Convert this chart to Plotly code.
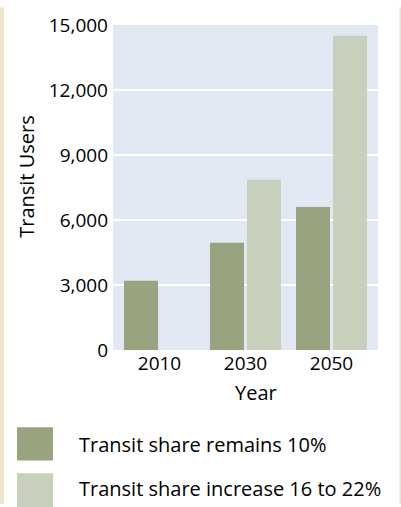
import plotly.graph_objects as go

# ---- data ----
years = ["2010", "2030", "2050"]
series_names = ["Transit share remains 10%", "Transit share increase 16 to 22%"]
remains_10 = [3200, 4950, 6600]
increase_16_22 = [None, 7860, 14500]
y_ticks = [0, 3000, 6000, 9000, 12000, 15000]
y_tick_labels = ["0", "3,000", "6,000", "9,000", "12,000", "15,000"]

# ---- styling ----
W, H = 401, 507
L, R, T, B = 113, 23, 18, 157
PW, PH = W - L - R, H - T - B
DARK = "#97A47F"
LIGHT = "#C7D0BA"
BG = "#E1E8F4"
BEIGE = "#EFE3CD"
FONT = "Open Sans"


def px2x(px):
    return (px - L) / PW


def py2y(py):
    return (H - B - py) / PH


fig = go.Figure()
fig.add_trace(go.Bar(x=years, y=remains_10, name=series_names[0],
                     marker=dict(color=DARK, line=dict(width=0))))
fig.add_trace(go.Bar(x=years, y=increase_16_22, name=series_names[1],
                     marker=dict(color=LIGHT, line=dict(width=0))))

shapes = [
    # beige page edges
    dict(type="rect", xref="paper", yref="paper", x0=px2x(0), x1=px2x(4),
         y0=py2y(H), y1=py2y(0), fillcolor=BEIGE, line=dict(width=0), layer="below"),
    dict(type="rect", xref="paper", yref="paper", x0=px2x(399.5), x1=px2x(W),
         y0=py2y(H), y1=py2y(0), fillcolor=BEIGE, line=dict(width=0), layer="below"),
    # legend swatches
    dict(type="rect", xref="paper", yref="paper", x0=px2x(17), x1=px2x(53),
         y0=py2y(463), y1=py2y(429), fillcolor=DARK, line=dict(width=0)),
    dict(type="rect", xref="paper", yref="paper", x0=px2x(17), x1=px2x(53),
         y0=py2y(512), y1=py2y(476), fillcolor=LIGHT, line=dict(width=0)),
]

annotations = [
    dict(text="Year", xref="paper", yref="paper", x=px2x(256), y=py2y(393),
         xanchor="center", yanchor="middle", showarrow=False,
         font=dict(family=FONT, size=20, color="black")),
    dict(text="Transit Users", xref="paper", yref="paper", x=px2x(27), y=py2y(173),
         xanchor="center", yanchor="middle", showarrow=False, textangle=-90,
         font=dict(family=FONT, size=20, color="black")),
    dict(text=series_names[0], xref="paper", yref="paper", x=px2x(77), y=py2y(447),
         xanchor="left", yanchor="middle", showarrow=False,
         font=dict(family=FONT, size=20, color="black")),
    dict(text=series_names[1], xref="paper", yref="paper", x=px2x(77), y=py2y(491),
         xanchor="left", yanchor="middle", showarrow=False,
         font=dict(family=FONT, size=20, color="black")),
]

fig.update_layout(
    width=W, height=H,
    margin=dict(l=L, r=R, t=T, b=B, pad=0),
    paper_bgcolor="white",
    plot_bgcolor=BG,
    barmode="group",
    bargap=0.14,
    bargroupgap=0.081,
    showlegend=False,
    hovermode=False,
    font=dict(family=FONT, size=19, color="black"),
    shapes=shapes,
    annotations=annotations,
    xaxis=dict(type="category", range=[-0.5407, 2.5407], showgrid=False,
               zeroline=False, showline=False, ticks="",
               tickfont=dict(family=FONT, size=19, color="black")),
    yaxis=dict(range=[0, 15000], tickvals=y_ticks, ticktext=y_tick_labels,
               showgrid=True, gridcolor="white", gridwidth=2.5,
               zeroline=False, showline=False, ticks="",
               ticklabelstandoff=4,
               tickfont=dict(family=FONT, size=19, color="black")),
)

fig.write_html(
    "out.html",
    config={"displayModeBar": False, "staticPlot": True},
    post_script="document.body.style.margin='0';document.body.style.overflow='hidden';",
)
